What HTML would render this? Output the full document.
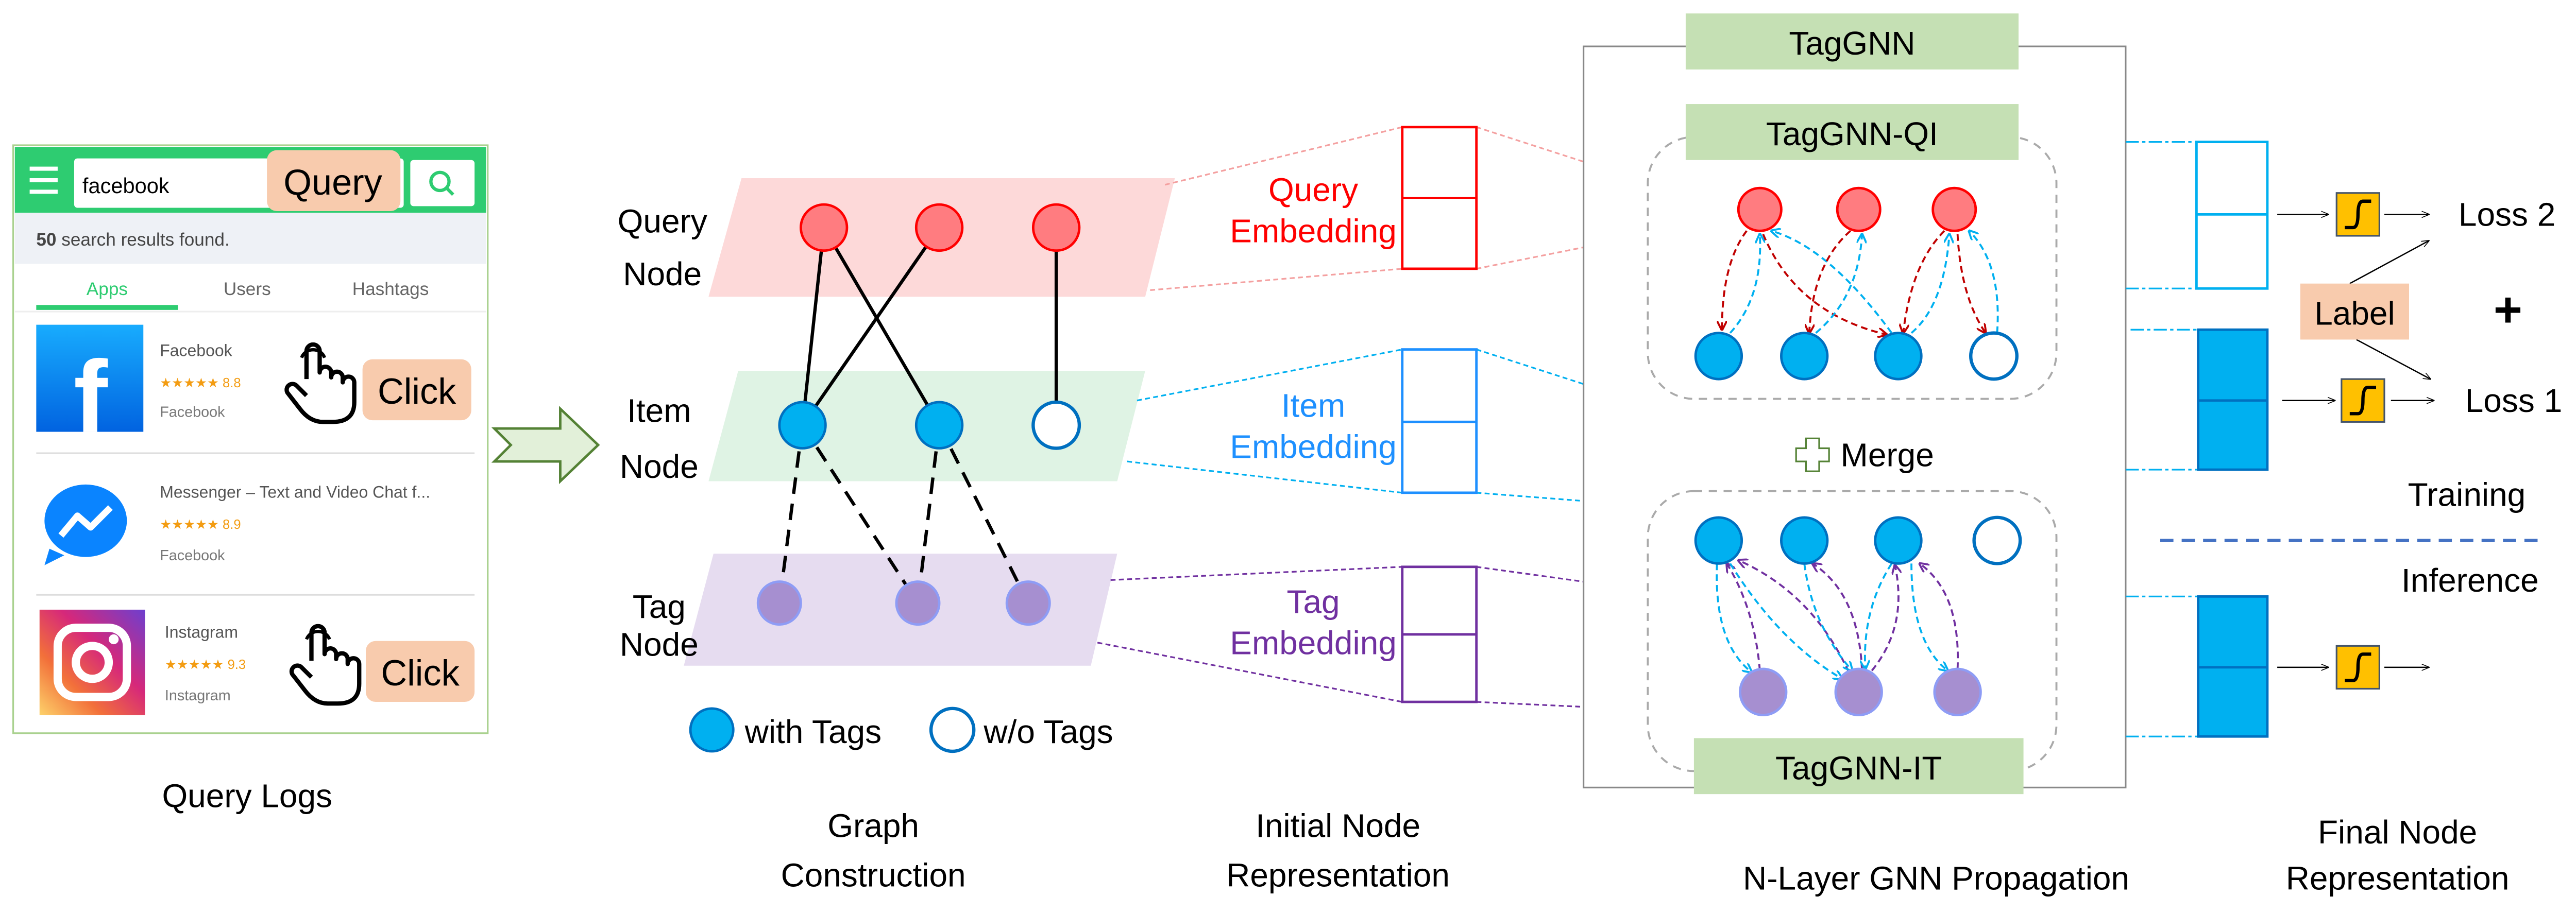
<!DOCTYPE html>
<html><head><meta charset="utf-8"><style>html,body{margin:0;padding:0;background:#fff}svg{display:block}text{font-family:"Liberation Sans",sans-serif}</style></head><body>
<svg width="5015" height="1773" viewBox="0 0 1568 554" xmlns="http://www.w3.org/2000/svg">
<defs>
<marker id="ab" viewBox="0 0 10 10" refX="9" refY="5" markerWidth="5" markerHeight="5" orient="auto"><path d="M0,0L10,5L0,10" fill="none" stroke="#00b0f0" stroke-width="2"/></marker>
<marker id="ar" viewBox="0 0 10 10" refX="9" refY="5" markerWidth="5" markerHeight="5" orient="auto"><path d="M0,0L10,5L0,10" fill="none" stroke="#c00000" stroke-width="2"/></marker>
<marker id="ap" viewBox="0 0 10 10" refX="9" refY="5" markerWidth="5" markerHeight="5" orient="auto"><path d="M0,0L10,5L0,10" fill="none" stroke="#7030a0" stroke-width="2"/></marker>
<marker id="ak" viewBox="0 0 10 10" refX="9" refY="5" markerWidth="6" markerHeight="6" orient="auto"><path d="M0,1L10,5L0,9" fill="none" stroke="#000" stroke-width="1"/></marker>
<linearGradient id="fb" x1="0" y1="0" x2="0" y2="1"><stop offset="0" stop-color="#18acfe"/><stop offset="1" stop-color="#0163e0"/></linearGradient>
<linearGradient id="ig" x1="0" y1="1" x2="1" y2="0"><stop offset="0" stop-color="#fdd26a"/><stop offset="0.3" stop-color="#f2703a"/><stop offset="0.6" stop-color="#d6287a"/><stop offset="1" stop-color="#6d3fcf"/></linearGradient>
<g id="hand"><path d="M12,22 V5 a4,4 0 0 1 8,0 V18 a3.5,3.5 0 0 1 7,0 V21 a3.5,3.5 0 0 1 7,0 V24 a3.5,3.5 0 0 1 7,0 V36 Q41,48 28,48 H22 Q14,48 8,40 L1,31 a3.5,3.5 0 0 1 5,-5 L12,32" fill="#fff" stroke="#000" stroke-width="2.6" stroke-linejoin="round"/>
<path d="M9,9 a7.5,7.5 0 0 1 14,0" fill="none" stroke="#000" stroke-width="2"/></g>
</defs>
<!-- phone -->
<rect x="8" y="88" width="288" height="357" fill="#fff" stroke="#a9d18e" stroke-width="1"/>
<rect x="9" y="89" width="286" height="40" fill="#2ecc71"/>
<rect x="18" y="101" width="17" height="2.5" fill="#fff"/><rect x="18" y="108" width="17" height="2.5" fill="#fff"/><rect x="18" y="115" width="17" height="2.5" fill="#fff"/>
<rect x="45" y="96" width="200" height="30" rx="2" fill="#fff"/>
<text x="50" y="117" font-size="13">facebook</text>
<rect x="162" y="91" width="81" height="37" rx="6" fill="#f8cbad"/>
<text x="202" y="118" font-size="22" text-anchor="middle">Query</text>
<rect x="249" y="97" width="39" height="28" rx="2" fill="#fff"/>
<circle cx="267" cy="110" r="5.5" fill="none" stroke="#2ecc71" stroke-width="2"/><line x1="271" y1="114" x2="275" y2="118" stroke="#2ecc71" stroke-width="2"/>
<rect x="9" y="129" width="286" height="31" fill="#eef1f6"/>
<text x="22" y="149" font-size="11" fill="#444"><tspan font-weight="bold">50</tspan> search results found.</text>
<text x="65" y="179" font-size="11" fill="#2ecc71" text-anchor="middle">Apps</text>
<text x="150" y="179" font-size="11" fill="#666" text-anchor="middle">Users</text>
<text x="237" y="179" font-size="11" fill="#666" text-anchor="middle">Hashtags</text>
<rect x="22" y="185" width="86" height="3" fill="#2ecc71"/>
<line x1="9" y1="189" x2="295" y2="189" stroke="#eee"/>
<rect x="22" y="197" width="65" height="65" fill="url(#fb)"/>
<text x="55" y="262" font-size="62" font-weight="bold" fill="#fff" text-anchor="middle">f</text>
<text x="97" y="216" font-size="10" fill="#555">Facebook</text>
<text x="97" y="235" font-size="8" fill="#f39c12">★★★★★ 8.8</text>
<text x="97" y="253" font-size="9" fill="#777">Facebook</text>
<use href="#hand" x="174" y="208" transform="translate(0,0)"/>
<rect x="220" y="218" width="66" height="37" rx="6" fill="#f8cbad"/>
<text x="253" y="245" font-size="22" text-anchor="middle">Click</text>
<line x1="22" y1="275" x2="288" y2="275" stroke="#ddd"/>
<ellipse cx="52" cy="316" rx="25" ry="22" fill="#0a84ff"/>
<path d="M30,333 l-3,10 l12,-6z" fill="#0a84ff"/>
<path d="M37,325 l10,-12 l8,7 l12,-12" fill="none" stroke="#fff" stroke-width="4" stroke-linejoin="round"/>
<text x="97" y="302" font-size="10" fill="#555">Messenger – Text and Video Chat f...</text>
<text x="97" y="321" font-size="8" fill="#f39c12">★★★★★ 8.9</text>
<text x="97" y="340" font-size="9" fill="#777">Facebook</text>
<line x1="22" y1="361" x2="288" y2="361" stroke="#ddd"/>
<rect x="24" y="370" width="64" height="64" fill="url(#ig)"/>
<rect x="35" y="381" width="42" height="42" rx="11" fill="none" stroke="#fff" stroke-width="5"/>
<circle cx="56" cy="402" r="10" fill="none" stroke="#fff" stroke-width="5"/><circle cx="69" cy="388" r="3" fill="#fff"/>
<text x="100" y="387" font-size="10" fill="#555">Instagram</text>
<text x="100" y="406" font-size="8" fill="#f39c12">★★★★★ 9.3</text>
<text x="100" y="425" font-size="9" fill="#777">Instagram</text>
<use href="#hand" x="177" y="379"/>
<rect x="222" y="389" width="66" height="37" rx="6" fill="#f8cbad"/>
<text x="255" y="416" font-size="22" text-anchor="middle">Click</text>
<text x="150" y="490" font-size="20" text-anchor="middle">Query Logs</text>
<!-- arrow -->
<path d="M300,260 H340 V248 L363,270 L340,292 V280 H300 L310,270Z" fill="#e2f0d9" stroke="#548235" stroke-width="1.5"/>
<!-- bands -->
<polygon points="450,108 713,108 695,180 430,180" fill="#fdd9d9"/>
<polygon points="448,225 695,225 678,292 430,292" fill="#dff3e4"/>
<polygon points="433,336 678,336 662,404 415,404" fill="#e6dcf0"/>
<text x="402" y="141" font-size="20" text-anchor="middle">Query</text><text x="402" y="173" font-size="20" text-anchor="middle">Node</text>
<text x="400" y="256" font-size="20" text-anchor="middle">Item</text><text x="400" y="290" font-size="20" text-anchor="middle">Node</text>
<text x="400" y="375" font-size="20" text-anchor="middle">Tag</text><text x="400" y="398" font-size="20" text-anchor="middle">Node</text>
<g stroke="#000" stroke-width="2">
<line x1="500" y1="138" x2="487" y2="258"/><line x1="500" y1="138" x2="570" y2="258"/><line x1="570" y1="138" x2="487" y2="258"/><line x1="641" y1="138" x2="641" y2="258"/>
</g>
<g stroke="#000" stroke-width="2" stroke-dasharray="10,6">
<line x1="487" y1="258" x2="473" y2="366"/><line x1="487" y1="258" x2="557" y2="366"/><line x1="570" y1="258" x2="557" y2="366"/><line x1="570" y1="258" x2="624" y2="366"/>
</g>
<g fill="#ff7c80" stroke="#ff0000" stroke-width="1.5"><circle cx="500" cy="138" r="14"/><circle cx="570" cy="138" r="14"/><circle cx="641" cy="138" r="14"/></g>
<g fill="#00b0f0" stroke="#0070c0" stroke-width="1.5"><circle cx="487" cy="258" r="14"/><circle cx="570" cy="258" r="14"/></g>
<circle cx="641" cy="258" r="14" fill="#fff" stroke="#0070c0" stroke-width="2"/>
<g fill="#a68fd0" stroke="#8e9cf5" stroke-width="1.5"><circle cx="473" cy="366" r="13"/><circle cx="557" cy="366" r="13"/><circle cx="624" cy="366" r="13"/></g>
<circle cx="432" cy="443" r="13" fill="#00b0f0" stroke="#0070c0" stroke-width="1.5"/>
<text x="452" y="451" font-size="20">with Tags</text>
<circle cx="578" cy="443" r="13" fill="#fff" stroke="#0070c0" stroke-width="2"/>
<text x="597" y="451" font-size="20">w/o Tags</text>
<text x="530" y="508" font-size="20" text-anchor="middle">Graph</text><text x="530" y="538" font-size="20" text-anchor="middle">Construction</text>
<!-- embeddings -->
<g stroke-width="1" stroke-dasharray="3,2" fill="none">
<line x1="707" y1="112" x2="851" y2="77" stroke="#f4a0a0"/><line x1="698" y1="176" x2="851" y2="163" stroke="#f4a0a0"/>
<line x1="896" y1="77" x2="961" y2="98" stroke="#f4a0a0"/><line x1="896" y1="163" x2="961" y2="150" stroke="#f4a0a0"/>
<line x1="690" y1="243" x2="851" y2="212" stroke="#00b0f0"/><line x1="684" y1="280" x2="851" y2="299" stroke="#00b0f0"/>
<line x1="896" y1="212" x2="961" y2="233" stroke="#00b0f0"/><line x1="896" y1="299" x2="961" y2="304" stroke="#00b0f0"/>
<line x1="674" y1="352" x2="851" y2="344" stroke="#7030a0"/><line x1="666" y1="390" x2="851" y2="426" stroke="#7030a0"/>
<line x1="896" y1="344" x2="961" y2="353" stroke="#7030a0"/><line x1="896" y1="426" x2="961" y2="429" stroke="#7030a0"/>
</g>
<rect x="851" y="77" width="45" height="86" fill="#fff" stroke="#ff0000" stroke-width="1.5"/><line x1="851" y1="120" x2="896" y2="120" stroke="#ff0000"/>
<rect x="851" y="212" width="45" height="87" fill="#fff" stroke="#1e90ff" stroke-width="1.5"/><line x1="851" y1="256" x2="896" y2="256" stroke="#1e90ff" stroke-width="1.5"/>
<rect x="851" y="344" width="45" height="82" fill="#fff" stroke="#7030a0" stroke-width="1.5"/><line x1="851" y1="385" x2="896" y2="385" stroke="#7030a0" stroke-width="1.5"/>
<text x="797" y="122" font-size="20" fill="#ff0000" text-anchor="middle">Query</text><text x="797" y="147" font-size="20" fill="#ff0000" text-anchor="middle">Embedding</text>
<text x="797" y="253" font-size="20" fill="#1e90ff" text-anchor="middle">Item</text><text x="797" y="278" font-size="20" fill="#1e90ff" text-anchor="middle">Embedding</text>
<text x="797" y="372" font-size="20" fill="#7030a0" text-anchor="middle">Tag</text><text x="797" y="397" font-size="20" fill="#7030a0" text-anchor="middle">Embedding</text>
<text x="812" y="508" font-size="20" text-anchor="middle">Initial Node</text><text x="812" y="538" font-size="20" text-anchor="middle">Representation</text>
<!-- big box -->
<rect x="961" y="28" width="329" height="450" fill="#fff" stroke="#888" stroke-width="1"/>
<rect x="1023" y="8" width="202" height="34" fill="#c5e0b4"/><text x="1124" y="33" font-size="20" text-anchor="middle">TagGNN</text>
<rect x="1000" y="83" width="248" height="159" rx="28" fill="none" stroke="#aaa" stroke-width="1.2" stroke-dasharray="5,4"/>
<rect x="1023" y="63" width="202" height="34" fill="#c5e0b4"/><text x="1124" y="88" font-size="20" text-anchor="middle">TagGNN-QI</text>
<rect x="1000" y="298" width="248" height="170" rx="28" fill="none" stroke="#aaa" stroke-width="1.2" stroke-dasharray="5,4"/>
<rect x="1028" y="448" width="200" height="34" fill="#c5e0b4"/><text x="1128" y="473" font-size="20" text-anchor="middle">TagGNN-IT</text>
<path d="M1096,266h8v6h6v8h-6v6h-8v-6h-6v-8h6z" fill="#fff" stroke="#548235" stroke-width="1"/>
<text x="1117" y="283" font-size="20">Merge</text>
<g fill="none" stroke-width="1.2" stroke-dasharray="4,2.5">
<path d="M1060,140 Q1045,160 1045,200" stroke="#c00000" marker-end="url(#ar)"/>
<path d="M1050,202 Q1070,180 1068,142" stroke="#00b0f0" marker-end="url(#ab)"/>
<path d="M1070,142 Q1090,190 1145,203" stroke="#c00000" marker-end="url(#ar)"/>
<path d="M1148,202 Q1110,150 1075,140" stroke="#00b0f0" marker-end="url(#ab)"/>
<path d="M1123,140 Q1100,160 1098,202" stroke="#c00000" marker-end="url(#ar)"/>
<path d="M1102,202 Q1128,180 1130,142" stroke="#00b0f0" marker-end="url(#ab)"/>
<path d="M1180,140 Q1160,160 1155,202" stroke="#c00000" marker-end="url(#ar)"/>
<path d="M1160,202 Q1180,185 1183,142" stroke="#00b0f0" marker-end="url(#ab)"/>
<path d="M1188,142 Q1190,180 1205,202" stroke="#c00000" marker-end="url(#ar)"/>
<path d="M1212,202 Q1215,160 1195,140" stroke="#00b0f0" marker-end="url(#ab)"/>
<path d="M1042,342 Q1040,390 1063,408" stroke="#00b0f0" marker-end="url(#ab)"/>
<path d="M1068,407 Q1065,370 1048,342" stroke="#7030a0" marker-end="url(#ap)"/>
<path d="M1050,342 Q1080,390 1118,412" stroke="#00b0f0" marker-end="url(#ab)"/>
<path d="M1122,408 Q1100,360 1055,340" stroke="#7030a0" marker-end="url(#ap)"/>
<path d="M1095,342 Q1100,380 1124,407" stroke="#00b0f0" marker-end="url(#ab)"/>
<path d="M1130,407 Q1128,360 1100,342" stroke="#7030a0" marker-end="url(#ap)"/>
<path d="M1148,342 Q1130,370 1132,406" stroke="#00b0f0" marker-end="url(#ab)"/>
<path d="M1136,407 Q1158,380 1150,343" stroke="#7030a0" marker-end="url(#ap)"/>
<path d="M1160,342 Q1160,390 1182,407" stroke="#00b0f0" marker-end="url(#ab)"/>
<path d="M1188,406 Q1190,360 1165,342" stroke="#7030a0" marker-end="url(#ap)"/>
</g>
<g fill="#ff7c80" stroke="#ff0000" stroke-width="1.5"><circle cx="1068" cy="127" r="13"/><circle cx="1128" cy="127" r="13"/><circle cx="1186" cy="127" r="13"/></g>
<g fill="#00b0f0" stroke="#0070c0" stroke-width="1.5"><circle cx="1043" cy="216" r="14"/><circle cx="1095" cy="216" r="14"/><circle cx="1152" cy="216" r="14"/>
<circle cx="1043" cy="328" r="14"/><circle cx="1095" cy="328" r="14"/><circle cx="1152" cy="328" r="14"/></g>
<circle cx="1210" cy="216" r="14" fill="#fff" stroke="#0070c0" stroke-width="2"/>
<circle cx="1212" cy="328" r="14" fill="#fff" stroke="#0070c0" stroke-width="2"/>
<g fill="#a68fd0" stroke="#8e9cf5" stroke-width="1.5"><circle cx="1070" cy="420" r="14"/><circle cx="1128" cy="420" r="14"/><circle cx="1188" cy="420" r="14"/></g>
<text x="1175" y="540" font-size="20" text-anchor="middle">N-Layer GNN Propagation</text>
<!-- final -->
<g stroke-width="1" stroke-dasharray="8,2,2,2" fill="none" stroke="#00b0f0">
<line x1="1290" y1="86" x2="1333" y2="86"/><line x1="1290" y1="175" x2="1333" y2="175"/>
<line x1="1293" y1="200" x2="1334" y2="200"/><line x1="1290" y1="285" x2="1334" y2="285"/>
<line x1="1290" y1="362" x2="1334" y2="362"/><line x1="1290" y1="447" x2="1334" y2="447"/>
</g>
<rect x="1333" y="86" width="43" height="89" fill="#fff" stroke="#00b0f0" stroke-width="1.5"/><line x1="1333" y1="130" x2="1376" y2="130" stroke="#00b0f0" stroke-width="1.5"/>
<rect x="1334" y="200" width="42" height="85" fill="#00b0f0" stroke="#0070c0" stroke-width="1.5"/><line x1="1334" y1="243" x2="1376" y2="243" stroke="#0070c0" stroke-width="1.5"/>
<rect x="1334" y="362" width="42" height="85" fill="#00b0f0" stroke="#0070c0" stroke-width="1.5"/><line x1="1334" y1="405" x2="1376" y2="405" stroke="#0070c0" stroke-width="1.5"/>
<g stroke="#000" stroke-width="0.8" marker-end="url(#ak)">
<line x1="1382" y1="130" x2="1413" y2="130"/><line x1="1447" y1="130" x2="1474" y2="130"/>
<line x1="1385" y1="243" x2="1417" y2="243"/><line x1="1451" y1="243" x2="1477" y2="243"/>
<line x1="1382" y1="405" x2="1413" y2="405"/><line x1="1447" y1="405" x2="1474" y2="405"/>
<line x1="1426" y1="172" x2="1474" y2="146"/><line x1="1430" y1="206" x2="1475" y2="230"/>
</g>
<g fill="#ffc000" stroke="#44546a" stroke-width="1"><rect x="1418" y="117" width="26" height="26"/><rect x="1421" y="230" width="26" height="26"/><rect x="1418" y="392" width="26" height="26"/></g>
<g fill="none" stroke="#000" stroke-width="2"><path d="M1423,138 h5 q3,0 3,-8 q0,-8 3,-8 h5"/><path d="M1426,251 h5 q3,0 3,-8 q0,-8 3,-8 h5"/><path d="M1423,413 h5 q3,0 3,-8 q0,-8 3,-8 h5"/></g>
<rect x="1396" y="172" width="66" height="34" fill="#f8cbad"/><text x="1429" y="197" font-size="20" text-anchor="middle">Label</text>
<text x="1492" y="137" font-size="20">Loss 2</text>
<text x="1496" y="250" font-size="20">Loss 1</text>
<text x="1522" y="198" font-size="30" font-weight="bold" text-anchor="middle">+</text>
<text x="1497" y="307" font-size="20" text-anchor="middle">Training</text>
<line x1="1311" y1="328" x2="1540" y2="328" stroke="#4472c4" stroke-width="2" stroke-dasharray="8,5"/>
<text x="1499" y="359" font-size="20" text-anchor="middle">Inference</text>
<text x="1455" y="512" font-size="20" text-anchor="middle">Final Node</text><text x="1455" y="540" font-size="20" text-anchor="middle">Representation</text>
</svg>
</body></html>
